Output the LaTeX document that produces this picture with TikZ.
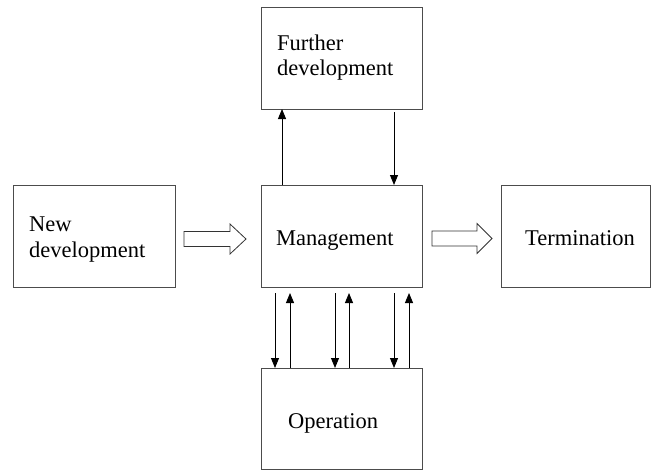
\documentclass[tikz,border=0pt]{standalone}
\usepackage{fontspec}
\setmainfont{Liberation Serif}
\usetikzlibrary{arrows.meta,calc}
\begin{document}
\begin{tikzpicture}[x=1pt,y=-1pt,
  box/.style={draw=black!70,line width=1pt,inner sep=0pt,outer sep=0pt,minimum height=102pt},
  lbl/.style={inner sep=0pt,anchor=base west,font=\fontsize{22.5}{26}\selectfont},
  conn/.style={line width=0.9pt,-{Triangle[width=8pt,length=10pt]}},
  hollow/.style={draw=black!80,line width=0.8pt,fill=white,line join=miter}]
\useasboundingbox (0,0) rectangle (652,471);
% boxes
\node[box,minimum width=161pt] (fd) at (341.5,58) {};
\node[box,minimum width=162pt] (nd) at (94,236) {};
\node[box,minimum width=161pt] (mg) at (341.5,236) {};
\node[box,minimum width=149pt] (tm) at (575.5,236) {};
\node[box,minimum width=161pt,minimum height=101pt] (op) at (341.5,418.5) {};
% texts
\node[lbl] (fd1) at (277,50) {Further};
\node[lbl] (fd2) at (277,75) {development};
\node[lbl] (nd1) at (29,231) {New};
\node[lbl] (nd2) at (29,257) {development};
\node[lbl] (mg1) at (276,245) {Management};
\node[lbl] (tm1) at (525,245) {Termination};
\node[lbl] (op1) at (288,428) {Operation};
% vertical arrows between Further development and Management
\draw[conn] (mg.north west -| 282,0) -- (fd.south west -| 282,0);
\draw[conn] ($(fd.south west -| 394,0)+(0,3)$) -- (mg.north west -| 394,0);
% arrows between Management and Operation
\foreach \d/\u in {275/290,335/349,394/409}{
  \draw[conn] ($(mg.south west -| \d,0)+(0,6)$) -- (op.north west -| \d,0);
  \draw[conn] (op.north west -| \u,0) -- ($(mg.south west -| \u,0)+(0,6)$);
}
% hollow arrows
\draw[hollow] ($(nd.east)+(9,-4.5)$) coordinate (a1) -- ++(46,0) -- ++(0,-7.5) -- ++(16,15) -- ++(-16,15) -- ++(0,-7.5) -- ++(-46,0) -- cycle;
\draw[hollow] ($(mg.east)+(10,-5)$) coordinate (a2) -- ++(45,0) -- ++(0,-7.5) -- ++(15,15) -- ++(-15,15) -- ++(0,-7.5) -- ++(-45,0) -- cycle;
\end{tikzpicture}
\end{document}
